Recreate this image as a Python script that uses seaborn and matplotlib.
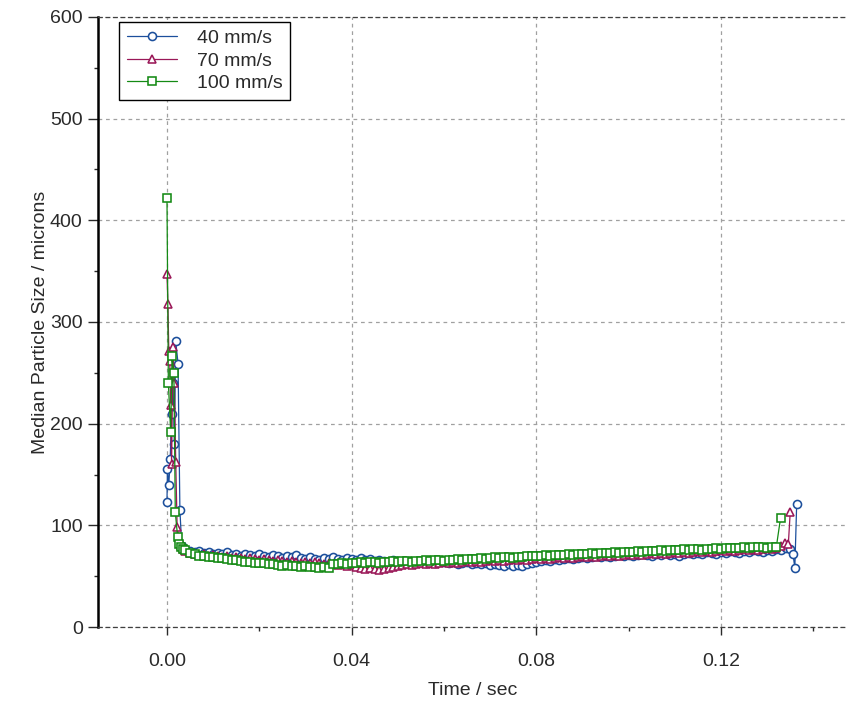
import numpy as np
import pandas as pd
import matplotlib
matplotlib.use("Agg")
import matplotlib.pyplot as plt
import seaborn as sns
from matplotlib.ticker import MultipleLocator, FormatStrFormatter

# ---------------- data ----------------
series_labels = ["40 mm/s", "70 mm/s", "100 mm/s"]

# initial spike (time in s)
t_spike_40 = [0.0000, 0.0001, 0.0004, 0.0007, 0.0010, 0.0013, 0.0016, 0.0019, 0.0024, 0.0028, 0.0032]
v_spike_40 = [123, 155, 140, 165, 210, 240, 180, 281, 259, 115, 80]
t_spike_70 = [0.0000, 0.0002, 0.0004, 0.0006, 0.0008, 0.0010, 0.0013, 0.0016, 0.0019, 0.0022, 0.0026, 0.0030, 0.0034]
v_spike_70 = [347, 318, 271, 262, 218, 160, 275, 240, 162, 98, 88, 80, 77]
t_spike_100 = [0.0000, 0.0003, 0.0008, 0.0011, 0.0015, 0.0018, 0.0023, 0.0026, 0.0030, 0.0035]
v_spike_100 = [422, 240, 192, 267, 250, 113, 89, 82, 79, 77]

# plateau sampling times (ms)
time_ms = [4, 5, 6, 7, 8, 9, 10, 11, 12, 13, 14, 15, 16, 17, 18, 19, 20, 21, 22, 23,
           24, 25, 26, 27, 28, 29, 30, 31, 32, 33, 34, 35, 36, 37, 38, 39, 40, 41, 42, 43,
           44, 45, 46, 47, 48, 49, 50, 51, 52, 53, 54, 55, 56, 57, 58, 59, 60, 61, 62, 63,
           64, 65, 66, 67, 68, 69, 70, 71, 72, 73, 74, 75, 76, 77, 78, 79, 80, 81, 82, 83,
           84, 85, 86, 87, 88, 89, 90, 91, 92, 93, 94, 95, 96, 97, 98, 99, 100, 101, 102, 103,
           104, 105, 106, 107, 108, 109, 110, 111, 112, 113, 114, 115, 116, 117, 118, 119, 120, 121, 122, 123,
           124, 125, 126, 127, 128, 129, 130, 131, 132, 133, 134, 135]

v_plateau_40 = [76, 75, 74, 75, 73, 74, 72, 73, 72, 74, 71, 72, 70, 72, 71, 70, 72, 70, 69, 71,
                70, 68, 70, 69, 71, 68, 67, 69, 67, 66, 68, 67, 69, 67, 66, 68, 67, 66, 68, 66,
                67, 65, 66, 65, 64, 66, 65, 64, 65, 63, 64, 65, 63, 64, 63, 65, 64, 63, 64, 62,
                63, 64, 62, 63, 62, 63, 61, 62, 61, 60, 62, 60, 61, 60, 62, 63, 64, 65, 66, 65,
                67, 66, 67, 68, 67, 68, 69, 68, 69, 70, 69, 70, 69, 70, 71, 70, 71, 70, 71, 72,
                71, 70, 72, 71, 73, 71, 72, 70, 72, 73, 72, 73, 72, 74, 73, 72, 74, 73, 75, 74,
                73, 75, 74, 76, 75, 74, 76, 75, 77, 76, 78, 77]
v_plateau_70 = [75, 73, 72, 71, 72, 70, 71, 70, 69, 70, 68, 69, 68, 67, 68, 67, 66, 67, 66, 65,
                66, 65, 64, 65, 64, 63, 64, 63, 64, 63, 62, 63, 62, 61, 62, 60, 61, 59, 58, 57,
                58, 57, 56, 57, 58, 59, 60, 61, 62, 61, 62, 63, 62, 63, 62, 63, 64, 63, 64, 63,
                64, 65, 64, 65, 64, 65, 66, 65, 66, 65, 66, 67, 66, 67, 66, 67, 68, 67, 68, 67,
                68, 69, 68, 69, 68, 69, 70, 69, 70, 69, 70, 71, 70, 71, 70, 71, 72, 71, 72, 71,
                72, 73, 72, 73, 72, 73, 74, 73, 74, 73, 74, 75, 74, 75, 74, 75, 76, 75, 76, 75,
                76, 77, 76, 77, 76, 77, 78, 77, 78, 80]
v_plateau_100 = [76, 73, 72, 70, 70, 69, 69, 68, 68, 67, 66, 66, 65, 64, 64, 63, 63, 63, 62, 62,
                 61, 60, 61, 60, 60, 59, 60, 59, 59, 58, 59, 58, 62, 62, 63, 62, 63, 63, 64, 63,
                 64, 64, 63, 64, 64, 65, 64, 65, 65, 64, 65, 65, 66, 65, 66, 66, 65, 66, 66, 67,
                 66, 67, 67, 67, 68, 67, 68, 69, 68, 69, 69, 68, 69, 69, 70, 70, 70, 70, 71, 70,
                 71, 71, 71, 72, 71, 72, 72, 72, 73, 72, 73, 73, 73, 74, 73, 74, 74, 74, 75, 74,
                 75, 75, 75, 76, 75, 76, 76, 76, 77, 76, 77, 77, 76, 77, 77, 78, 77, 78, 78, 78,
                 78, 79, 78, 79, 79, 79, 78, 79, 79]

# final spike (time in s)
t_tail_40 = [0.1356, 0.1360, 0.1364]
v_tail_40 = [72, 58, 121]
t_tail_70 = [0.1338, 0.1346, 0.1350]
v_tail_70 = [83, 82, 113]
t_tail_100 = [0.1329]
v_tail_100 = [107]

colors = {"40 mm/s": "#1c4f9c", "70 mm/s": "#9a1858", "100 mm/s": "#148a14"}
markers = {"40 mm/s": "o", "70 mm/s": "^", "100 mm/s": "s"}
msizes = {"40 mm/s": 5.8, "70 mm/s": 5.8, "100 mm/s": 6.2}


def build(t_sp, v_sp, v_pl, t_tl, v_tl):
    t = list(t_sp) + [m / 1000.0 for m in time_ms[:len(v_pl)]] + list(t_tl)
    v = list(v_sp) + list(v_pl) + list(v_tl)
    return t, v


data = {
    "40 mm/s": build(t_spike_40, v_spike_40, v_plateau_40, t_tail_40, v_tail_40),
    "70 mm/s": build(t_spike_70, v_spike_70, v_plateau_70, t_tail_70, v_tail_70),
    "100 mm/s": build(t_spike_100, v_spike_100, v_plateau_100, t_tail_100, v_tail_100),
}

# ---------------- plot ----------------
sns.set_theme(style="white")
plt.rcParams['font.family'] = ['Liberation Sans', 'DejaVu Sans']
plt.rcParams['text.color'] = '#2a2a2a'
plt.rcParams['axes.labelcolor'] = '#2a2a2a'
plt.rcParams['xtick.color'] = '#2a2a2a'
plt.rcParams['ytick.color'] = '#2a2a2a'

fig = plt.figure(figsize=(8.47, 7.04), dpi=100)
ax = fig.add_axes([98 / 847, 77 / 704, 1 - 98 / 847, 610 / 704])

for lab in series_labels:
    t, v = data[lab]
    df = pd.DataFrame({"time": t, "size": v})
    c = colors[lab]
    sns.lineplot(data=df, x="time", y="size", ax=ax, sort=False, estimator=None,
                 color=c, linewidth=0.9, marker=markers[lab], markersize=msizes[lab],
                 markerfacecolor="white", markeredgecolor=c, markeredgewidth=1.15,
                 label=lab)

ax.set_xlim(-0.01494, 0.1473)
ax.set_ylim(0, 600)
ax.xaxis.set_major_locator(MultipleLocator(0.04))
ax.xaxis.set_minor_locator(MultipleLocator(0.02))
ax.xaxis.set_major_formatter(FormatStrFormatter('%.2f'))
ax.yaxis.set_major_locator(MultipleLocator(100))
ax.yaxis.set_minor_locator(MultipleLocator(50))

ax.grid(True, which='major', color='#a0a0a0', linestyle=(0, (3, 3)), linewidth=0.9)
ax.set_axisbelow(True)

ax.spines['left'].set_color('black')
ax.spines['left'].set_linewidth(1.8)
for s in ['top', 'bottom']:
    ax.spines[s].set_color('#404040')
    ax.spines[s].set_linewidth(0.9)
    ax.spines[s].set_linestyle((0, (3, 3)))
ax.spines['right'].set_visible(False)

ax.tick_params(axis='x', which='major', direction='out', length=6, width=1.0,
               labelsize=14, pad=13, bottom=True, top=False)
ax.tick_params(axis='x', which='minor', direction='out', length=3, width=1.0,
               bottom=True, top=False)
ax.tick_params(axis='y', which='major', direction='out', length=7, width=1.0,
               labelsize=14, pad=4, left=True, right=False)
ax.tick_params(axis='y', which='minor', direction='out', length=3, width=1.0,
               left=True, right=False)

ax.set_xlabel("Time / sec", fontsize=14)
ax.set_ylabel("Median Particle Size / microns", fontsize=14)
ax.yaxis.set_label_coords(-0.066, 0.5)
ax.xaxis.set_label_coords(0.5, -0.090)

leg = ax.legend(loc='upper left', bbox_to_anchor=(0.028, 0.992), borderaxespad=0,
                frameon=True, fancybox=False, edgecolor='black', framealpha=1,
                fontsize=14, handlelength=2.6, handletextpad=1.0, labelspacing=0.25,
                borderpad=0.4)
leg.get_frame().set_linewidth(1.0)

fig.savefig("out.png", dpi=100, facecolor='white')
